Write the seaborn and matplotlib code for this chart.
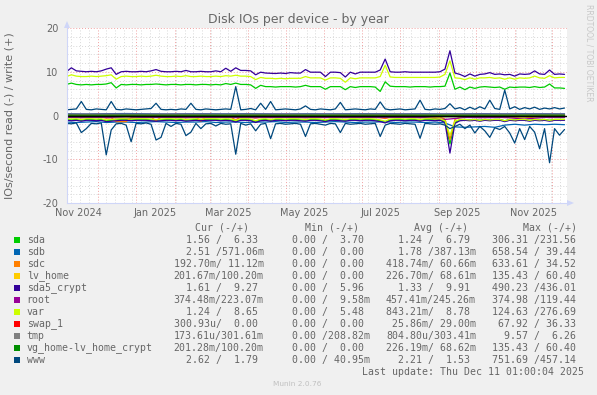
import numpy as np
import pandas as pd
import matplotlib
matplotlib.use("Agg")
import matplotlib.pyplot as plt
import matplotlib.dates as mdates
from matplotlib.patches import Rectangle, Polygon
from matplotlib.transforms import blended_transform_factory
import seaborn as sns

sns.set_theme(style="white")
plt.rcParams["font.family"] = ["DejaVu Sans"]
plt.rcParams["axes.unicode_minus"] = False

# ---------------- data ----------------
devices = ["sda", "sdb", "sdc", "lv_home", "sda5_crypt", "root", "var",
           "swap_1", "tmp", "vg_home-lv_home_crypt", "www"]
colors = ["#00CC00", "#0066B3", "#FF8000", "#FFCC00", "#330099", "#990099",
          "#CCFF00", "#FF0000", "#808080", "#008F00", "#00487D"]

start_date = "2024-11-06"
span_days = 400

sda_write = [7.1, 7.4, 7.1, 7.0, 7.1, 7.0, 7.1, 7.1, 7.2, 7.5,
             6.3, 7.1, 7.0, 7.1, 7.1, 7.0, 7.1, 7.1, 7.2, 7.1,
             7.0, 7.1, 7.1, 7.0, 7.1, 7.1, 7.0, 7.1, 7.1, 7.0,
             7.1, 7.0, 7.3, 7.1, 7.4, 7.1, 7.1, 7.0, 6.2, 6.9,
             6.6, 6.6, 6.5, 6.6, 6.6, 6.6, 6.5, 6.6, 6.9, 6.6,
             6.6, 6.6, 6.0, 6.6, 6.6, 6.6, 5.9, 6.6, 6.4, 6.6,
             6.6, 6.6, 6.5, 5.5, 7.7, 6.7, 6.6, 6.6, 6.6, 6.5,
             6.6, 6.6, 6.6, 6.5, 6.6, 6.6, 6.7, 9.7, 6.0, 6.5,
             5.9, 6.5, 6.2, 6.5, 6.6, 6.5, 6.4, 6.5, 6.0, 6.5,
             6.4, 6.5, 6.5, 6.4, 6.6, 6.4, 6.5, 7.2, 6.3, 6.3,
             6.2]
sda_read = [-0.9, -1.0, -0.9, -1.1, -0.9, -0.9, -1.0, -0.9, -1.2, -1.1,
            -1.0, -0.9, -0.9, -1.0, -0.9, -0.9, -0.9, -1.0, -1.1, -1.0,
            -0.9, -0.9, -1.0, -0.9, -1.1, -1.0, -0.9, -1.0, -0.9, -0.9,
            -0.9, -1.0, -0.9, -1.0, -1.3, -0.9, -0.9, -1.0, -1.4, -1.0,
            -0.9, -1.1, -0.9, -0.9, -1.0, -0.9, -0.9, -1.0, -1.1, -0.9,
            -0.9, -1.0, -1.2, -0.9, -0.9, -1.0, -1.1, -0.9, -0.9, -1.0,
            -0.9, -0.9, -1.0, -1.2, -1.5, -1.0, -0.9, -0.9, -1.0, -0.9,
            -0.9, -1.1, -0.9, -0.9, -1.0, -0.9, -1.4, -6.5, -1.6, -1.0,
            -0.9, -1.0, -0.9, -1.1, -0.9, -1.0, -0.9, -0.9, -1.2, -0.9,
            -1.0, -0.9, -0.9, -1.1, -0.9, -1.0, -0.9, -1.1, -0.9, -0.9,
            -0.9]

sdb_write = [0.40, 0.35, 0.42, 0.45, 0.40, 0.36, 0.40, 0.41, 0.38, 0.42,
             0.40, 0.36, 0.40, 0.38, 0.40, 0.42, 0.40, 0.38, 0.40, 0.36,
             0.40, 0.42, 0.38, 0.40, 0.40, 0.38]
sdb_read = [-1.5, -1.6, -1.5, -1.4, -1.6, -1.5, -1.5, -1.6, -1.5, -1.4,
            -1.5, -1.6, -1.5, -1.5, -1.4, -1.6, -1.5, -1.5, -1.6, -1.5,
            -1.5, -1.4, -1.6, -1.5, -1.5, -1.6, -1.5, -1.4, -1.5, -1.6,
            -1.5, -1.5, -1.4, -1.6, -1.5, -1.5, -1.6, -1.5, -1.7, -2.6,
            -2.7, -2.6, -2.5, -2.7, -2.2, -2.0, -2.2, -2.0, -2.1, -2.0,
            -2.1]

sdc_write = [0.06, 0.05, 0.07, 0.06, 0.06, 0.05, 0.06, 0.07, 0.06, 0.06,
             0.05, 0.06, 0.06, 0.07, 0.06, 0.05, 0.06, 0.06, 0.07, 0.06,
             0.06, 0.05, 0.06, 0.06, 0.07, 0.06]
sdc_read = [-0.35, -0.4, -0.35, -0.5, -0.35, -0.35, -0.4, -0.35, -0.6, -0.5,
            -1.4, -1.4, -1.4, -0.5, -0.35, -0.35, -0.4, -0.4, -1.2, -0.4,
            -0.35, -0.35, -0.4, -0.35, -0.5, -0.4, -0.35, -1.3, -0.35, -0.35,
            -0.35, -0.4, -0.35, -0.4, -1.0, -0.35, -0.35, -0.4, -0.6, -0.4,
            -0.35, -0.5, -0.35, -0.35, -0.4, -0.35, -0.35, -0.4, -0.5, -0.35,
            -0.35, -0.4, -0.5, -0.35, -0.35, -0.4, -0.5, -0.35, -0.35, -0.4,
            -0.35, -0.35, -0.4, -0.5, -0.7, -0.4, -0.35, -0.35, -0.4, -0.35,
            -0.35, -0.5, -0.35, -0.35, -0.4, -0.35, -0.8, -5.5, -0.9, -0.4,
            -0.35, -0.4, -0.35, -0.5, -0.35, -0.4, -0.35, -0.35, -0.5, -0.35,
            -0.4, -0.35, -0.35, -0.5, -0.35, -0.4, -0.35, -0.5, -0.35, -0.35,
            -0.35]

lv_home_write = [0.07, 0.07, 0.06, 0.07, 0.08, 0.07, 0.07, 0.06, 0.07, 0.07,
                 0.08, 0.07, 0.07, 0.06, 0.07, 0.07, 0.07, 0.08, 0.07, 0.07,
                 0.06, 0.07, 0.07, 0.07, 0.08, 0.07]
lv_home_read = [-0.22, -0.23, -0.22, -0.24, -0.22, -0.23, -0.22, -0.22, -0.24, -0.23,
                -0.22, -0.22, -0.23, -0.22, -0.24, -0.22, -0.23, -0.22, -0.22, -0.24,
                -0.23, -0.22, -0.22, -0.23, -0.22, -0.22]

sda5_write = [10.0, 10.9, 10.2, 10.1, 10.0, 10.1, 10.0, 10.2, 10.6, 10.9,
              9.4, 10.0, 10.1, 10.0, 10.0, 10.1, 10.0, 10.2, 10.5, 10.1,
              10.0, 10.0, 10.1, 10.0, 10.3, 10.0, 10.0, 10.1, 10.0, 10.0,
              10.2, 10.0, 10.8, 10.1, 10.9, 10.3, 10.3, 10.2, 9.3, 9.9,
              9.7, 9.65, 9.6, 9.7, 9.6, 9.8, 9.7, 9.7, 10.5, 9.9,
              9.9, 9.9, 8.9, 9.9, 9.9, 9.8, 8.8, 9.9, 9.5, 9.9,
              9.9, 9.9, 9.9, 10.4, 12.9, 10.0, 9.9, 9.9, 10.0, 9.9,
              9.9, 9.9, 9.9, 9.9, 9.9, 10.0, 10.6, 14.8, 9.7, 9.4,
              8.9, 9.5, 9.0, 9.4, 9.5, 9.8, 9.4, 9.5, 9.3, 9.4,
              9.0, 9.5, 9.4, 9.5, 10.2, 9.5, 9.4, 10.4, 9.4, 9.5,
              9.4]
sda5_read = [-1.1, -1.2, -1.1, -1.3, -1.1, -1.1, -1.2, -1.1, -1.4, -1.3,
             -1.2, -1.1, -1.1, -1.2, -1.1, -1.1, -1.1, -1.2, -1.3, -1.2,
             -1.1, -1.1, -1.2, -1.1, -1.3, -1.2, -1.1, -1.2, -1.1, -1.1,
             -1.1, -1.2, -1.1, -1.2, -1.5, -1.1, -1.1, -1.2, -1.6, -1.2,
             -1.1, -1.3, -1.1, -1.1, -1.2, -1.1, -1.1, -1.2, -1.3, -1.1,
             -1.1, -1.2, -1.4, -1.1, -1.1, -1.2, -1.3, -1.1, -1.1, -1.2,
             -1.1, -1.1, -1.2, -1.4, -1.7, -1.2, -1.1, -1.1, -1.2, -1.1,
             -1.1, -1.3, -1.1, -1.1, -1.2, -1.1, -1.6, -8.6, -1.8, -1.2,
             -1.1, -1.2, -1.1, -1.3, -1.1, -1.2, -1.1, -1.1, -1.4, -1.1,
             -1.2, -1.1, -1.1, -1.3, -1.1, -1.2, -1.1, -1.3, -1.1, -1.1,
             -1.1]

root_write = [0.25, 0.24, 0.26, 0.25, 0.24, 0.25, 0.26, 0.25, 0.24, 0.25,
              0.25, 0.26, 0.24, 0.25, 0.25, 0.24, 0.26, 0.25, 0.25, 0.24,
              0.25, 0.26, 0.25, 0.24, 0.25, 0.25]
root_read = [-0.45, -0.5, -0.45, -0.6, -0.45, -0.45, -0.5, -0.45, -0.45, -0.5,
             -0.45, -0.45, -0.5, -0.45, -0.45, -0.5, -0.45, -0.45, -0.5, -0.9,
             -0.45, -0.5, -0.45, -0.8, -0.45, -0.45]

var_write = [8.9, 9.3, 9.0, 8.9, 8.9, 9.0, 8.9, 9.0, 9.1, 9.3,
             8.3, 8.9, 9.0, 8.9, 8.9, 9.0, 8.9, 9.0, 9.2, 9.0,
             8.9, 8.9, 9.0, 8.9, 9.1, 8.9, 8.9, 9.0, 8.9, 8.9,
             9.0, 8.9, 9.1, 9.0, 9.2, 9.0, 9.0, 8.9, 8.2, 8.7,
             8.5, 8.5, 8.4, 8.5, 8.4, 8.5, 8.5, 8.5, 8.9, 8.6,
             8.6, 8.6, 8.1, 8.6, 8.6, 8.5, 7.6, 8.6, 8.4, 8.6,
             8.6, 8.6, 8.6, 8.9, 11.5, 8.8, 8.7, 8.7, 8.7, 8.7,
             8.7, 8.7, 8.7, 8.7, 8.7, 8.8, 9.4, 12.5, 8.6, 8.5,
             8.2, 8.6, 8.3, 8.6, 8.6, 8.7, 8.5, 8.6, 8.3, 8.6,
             8.3, 8.6, 8.5, 8.6, 9.0, 8.6, 8.5, 9.1, 8.6, 8.7,
             8.7]
var_read = [-0.75, -0.8, -0.75, -0.9, -0.75, -0.75, -0.8, -0.75, -1.0, -0.9,
            -0.8, -0.75, -0.75, -0.8, -0.75, -0.75, -0.75, -0.8, -0.9, -0.8,
            -0.75, -0.75, -0.8, -0.75, -0.9, -0.8, -0.75, -0.8, -0.75, -0.75,
            -0.75, -0.8, -0.75, -0.8, -1.1, -0.75, -0.75, -0.8, -1.2, -0.8,
            -0.75, -0.9, -0.75, -0.75, -0.8, -0.75, -0.75, -0.8, -0.9, -0.75,
            -0.75, -0.8, -1.0, -0.75, -0.75, -0.8, -0.9, -0.75, -0.75, -0.8,
            -0.75, -0.75, -0.8, -1.0, -1.3, -0.8, -0.75, -0.75, -0.8, -0.75,
            -0.75, -0.9, -0.75, -0.75, -0.8, -0.75, -1.2, -4.5, -1.3, -0.9,
            -0.9, -1.0, -0.9, -1.1, -0.9, -1.0, -0.9, -0.9, -1.2, -0.9,
            -1.0, -0.9, -0.9, -1.1, -0.9, -1.0, -0.9, -1.1, -0.9, -0.9,
            -0.9]

swap_write = [0.03, 0.02, 0.03, 0.03, 0.02, 0.03, 0.03, 0.03, 0.02, 0.03,
              0.03, 0.03, 0.02, 0.03, 0.03, 0.03, 0.02, 0.03, 0.03, 0.03,
              0.02, 0.03, 0.03, 0.03, 0.02, 0.03]
swap_read = [-0.03, -0.02, -0.03, -0.03, -0.02, -0.03, -0.03, -0.03, -0.02, -0.03,
             -0.03, -0.03, -0.02, -0.03, -0.03, -0.03, -0.02, -0.03, -0.03, -0.03,
             -0.02, -0.03, -0.03, -0.03, -0.02, -0.03]

tmp_write = [0.30, 0.31, 0.30, 0.29, 0.30, 0.31, 0.30, 0.30, 0.29, 0.30,
             0.31, 0.30, 0.30, 0.29, 0.30, 0.31, 0.30, 0.30, 0.29, 0.30,
             0.31, 0.30, 0.30, 0.29, 0.30, 0.30]
tmp_read = [0.0, 0.0, 0.0, 0.0, 0.0, 0.0, 0.0, 0.0, 0.0, 0.0,
            0.0, 0.0, 0.0, 0.0, 0.0, 0.0, 0.0, 0.0, 0.0, 0.0,
            0.0, 0.0, 0.0, 0.0, 0.0, 0.0]

vg_write = [0.07, 0.07, 0.06, 0.07, 0.08, 0.07, 0.07, 0.06, 0.07, 0.07,
            0.08, 0.07, 0.07, 0.06, 0.07, 0.07, 0.07, 0.08, 0.07, 0.07,
            0.06, 0.07, 0.07, 0.07, 0.08, 0.07]
vg_read = [-0.22, -0.23, -0.22, -0.24, -0.22, -0.23, -0.22, -0.22, -0.24, -0.23,
           -0.22, -0.22, -0.23, -0.22, -0.24, -0.22, -0.23, -0.22, -0.22, -0.24,
           -0.23, -0.22, -0.22, -0.23, -0.22, -0.22]

www_write = [1.3, 1.4, 1.5, 3.2, 1.4, 1.3, 1.5, 1.4, 1.3, 3.2,
             1.4, 1.3, 1.5, 1.4, 1.3, 1.4, 1.5, 1.6, 2.8, 1.4,
             1.3, 1.4, 1.3, 1.5, 1.4, 2.8, 1.4, 1.3, 1.5, 1.4,
             1.3, 1.4, 1.5, 1.4, 6.6, 1.3, 1.4, 1.6, 1.3, 2.8,
             1.4, 3.2, 1.3, 1.4, 1.5, 1.4, 1.3, 1.5, 2.2, 1.4,
             1.3, 1.5, 1.4, 1.3, 1.5, 3.0, 1.3, 1.4, 1.5, 1.4,
             1.3, 1.5, 1.4, 3.1, 1.5, 1.3, 1.4, 1.5, 1.3, 1.4,
             1.5, 3.5, 1.4, 1.3, 1.5, 1.4, 1.6, 2.7, 1.5, 1.8,
             1.3, 1.9, 1.4, 2.0, 1.5, 3.5, 1.6, 1.4, 5.8, 1.5,
             2.0, 1.4, 1.8, 1.5, 1.9, 1.4, 1.7, 1.5, 1.8, 1.5,
             1.7]
www_read = [-1.8, -1.9, -1.7, -3.9, -3.0, -1.8, -1.9, -1.7, -9.0, -3.3,
            -1.9, -1.8, -2.2, -6.0, -1.8, -1.9, -1.7, -2.0, -5.6, -5.0,
            -1.8, -2.5, -1.8, -2.0, -4.6, -3.8, -1.8, -3.0, -1.9, -1.8,
            -2.4, -1.8, -2.0, -1.9, -8.85, -1.8, -2.2, -1.9, -3.5, -2.0,
            -1.8, -5.3, -1.9, -1.8, -2.0, -1.9, -1.8, -2.0, -4.8, -1.9,
            -1.8, -2.0, -2.2, -1.8, -1.9, -3.9, -1.8, -2.0, -1.9, -1.8,
            -2.0, -1.9, -1.8, -4.8, -2.2, -1.8, -1.9, -2.0, -1.8, -1.9,
            -2.0, -5.2, -1.8, -1.9, -2.0, -1.9, -2.2, -3.0, -2.5, -2.0,
            -3.0, -2.2, -4.0, -2.5, -3.5, -5.0, -2.8, -3.2, -2.5, -4.0,
            -6.3, -3.0, -5.5, -2.5, -3.8, -7.6, -3.0, -10.8, -3.0, -4.5,
            -3.2]

reads = [sda_read, sdb_read, sdc_read, lv_home_read, sda5_read, root_read,
         var_read, swap_read, tmp_read, vg_read, www_read]
writes = [sda_write, sdb_write, sdc_write, lv_home_write, sda5_write, root_write,
          var_write, swap_write, tmp_write, vg_write, www_write]

cur_col = ["  1.56 /  6.33 ", "  2.51 /571.06m", "192.70m/ 11.12m", "201.67m/100.20m",
           "  1.61 /  9.27 ", "374.48m/223.07m", "  1.24 /  8.65 ", "300.93u/  0.00 ",
           "173.61u/301.61m", "201.28m/100.20m", "  2.62 /  1.79 "]
min_col = ["  0.00 /  3.70 ", "  0.00 /  0.00 ", "  0.00 /  0.00 ", "  0.00 /  0.00 ",
           "  0.00 /  5.96 ", "  0.00 /  9.58m", "  0.00 /  5.48 ", "  0.00 /  0.00 ",
           "  0.00 /208.82m", "  0.00 /  0.00 ", "  0.00 / 40.95m"]
avg_col = ["  1.24 /  6.79 ", "  1.78 /387.13m", "418.74m/ 60.66m", "226.70m/ 68.61m",
           "  1.33 /  9.91 ", "457.41m/245.26m", "843.21m/  8.78 ", " 25.86m/ 29.00m",
           "804.80u/303.41m", "226.19m/ 68.62m", "  2.21 /  1.53 "]
max_col = ["306.31 /231.56 ", "658.54 / 39.44 ", "633.61 / 34.52 ", "135.43 / 60.40 ",
           "490.23 /436.01 ", "374.98 /119.44 ", "124.63 /276.69 ", " 67.92 / 36.33 ",
           "  9.57 /  6.26 ", "135.43 / 60.40 ", "751.69 /457.14 "]
col_headers = ["Cur (-/+)", "Min (-/+)", "Avg (-/+)", "Max (-/+)"]

xtick_labels = ["Nov 2024", "Jan 2025", "Mar 2025", "May 2025", "Jul 2025", "Sep 2025", "Nov 2025"]
xtick_label_dates = ["2024-11-16", "2025-01-16", "2025-03-16", "2025-05-16",
                     "2025-07-16", "2025-09-16", "2025-11-16"]
yticks = [-20, -10, 0, 10, 20]

title = "Disk IOs per device - by year"
ylabel = "IOs/second read (-) / write (+)"
last_update = "Last update: Thu Dec 11 01:00:04 2025"

# ---------------- figure ----------------
W, H = 597, 395
FONT = "#666666"
AXISC = "#CFD6F8"
fig = plt.figure(figsize=(W / 100, H / 100), dpi=100)
fig.patch.set_facecolor("#F0F0F0")

def fx(px):
    return px / W

def fy(py):
    return 1 - py / H

ax = fig.add_axes([fx(67), fy(203), 500 / W, 175 / H])
ax.set_facecolor("white")

t0 = pd.Timestamp(start_date)

def when(vals):
    return t0 + pd.to_timedelta(np.linspace(0, span_days, len(vals)), unit="D")

for name, col, rd, wr in zip(devices, colors, reads, writes):
    sns.lineplot(x=when(rd), y=rd, ax=ax, color=col, linewidth=0.9, legend=False)
    sns.lineplot(x=when(wr), y=wr, ax=ax, color=col, linewidth=0.9, legend=False)

# zero rule
ax.axhline(0, color="#000000", linewidth=1.0, zorder=2.5)

ax.set_xlim(pd.Timestamp("2024-11-06 12:00"), pd.Timestamp("2025-12-13"))
ax.set_ylim(-20, 20)

# grid
ax.xaxis.set_major_locator(mdates.MonthLocator())
ax.xaxis.set_minor_locator(mdates.WeekdayLocator(byweekday=mdates.SU))
ax.xaxis.set_major_formatter(plt.NullFormatter())
ax.set_yticks(yticks)
ax.set_yticks(np.arange(-20, 21, 2), minor=True)
ax.grid(which="minor", color="#D8D8D8", linestyle=(0, (1, 2)), linewidth=0.7)
ax.grid(which="major", color="#F0A0A0", linestyle=(0, (1, 2)), linewidth=0.7)
ax.set_axisbelow(True)
ax.tick_params(axis="x", which="major", length=3, color="#F0A0A0", width=0.7, direction="out")
ax.tick_params(axis="x", which="minor", length=3, color="#D8D8D8", width=0.7, direction="out")
ax.tick_params(axis="y", which="major", length=3, color="#F0A0A0", width=0.7,
               labelsize=7, labelcolor=FONT, pad=3)
ax.tick_params(axis="y", which="minor", length=3, color="#D8D8D8", width=0.7)
ax.set_ylabel("")
ax.set_xlabel("")

for s in ["top", "right"]:
    ax.spines[s].set_visible(False)
for s in ["left", "bottom"]:
    ax.spines[s].set_color(AXISC)
    ax.spines[s].set_linewidth(0.8)

# axis arrows
fig.patches.append(Polygon([[fx(64), fy(28)], [fx(70), fy(28)], [fx(67), fy(21)]],
                           closed=True, transform=fig.transFigure, facecolor=AXISC,
                           edgecolor="none"))
fig.patches.append(Polygon([[fx(567), fy(200)], [fx(567), fy(206)], [fx(574), fy(203)]],
                           closed=True, transform=fig.transFigure, facecolor=AXISC,
                           edgecolor="none"))

# x labels centred mid-month
trans = blended_transform_factory(ax.transData, fig.transFigure)
for lab, d in zip(xtick_labels, xtick_label_dates):
    ax.text(mdates.date2num(pd.Timestamp(d)), fy(212.5), lab, transform=trans,
            ha="center", va="center", fontsize=7, color=FONT)

# title, y label, watermark
fig.text(fx(298.5), fy(23.5), title, ha="center", va="baseline", fontsize=9, color=FONT)
fig.text(fx(10), fy(115.5), ylabel, ha="center", va="center", rotation=90,
         fontsize=8, color=FONT)
fig.text(fx(589), fy(4), "RRDTOOL / TOBI OETIKER", ha="center", va="top", rotation=270,
         fontsize=5.5, color="#C8C8C8")
fig.text(fx(273), fy(384), "Munin 2.0.76", ha="left", va="center", fontsize=5.3,
         color="#C0C0C0")

# legend table
mono = "DejaVu Sans Mono"
fs = 7.15
head_x = [195, 305, 414, 523.3]
for h, hx in zip(col_headers, head_x):
    fig.text(fx(hx), fy(227.6), h, ha="left", va="center", fontsize=fs, family=mono, color=FONT)
col_x = [173.6, 279.8, 386.0, 492.3]
for i, name in enumerate(devices):
    yc = 239.6 + i * 12.0
    fig.patches.append(Rectangle((fx(14), fy(yc + 3)), 6 / W, 6 / H,
                                 transform=fig.transFigure, facecolor=colors[i],
                                 edgecolor="none"))
    fig.text(fx(26.7), fy(yc), name, ha="left", va="center", fontsize=fs, family=mono, color=FONT)
    for cx, colvals in zip(col_x, [cur_col, min_col, avg_col, max_col]):
        fig.text(fx(cx), fy(yc), colvals[i], ha="left", va="center", fontsize=fs,
                 family=mono, color=FONT)
fig.text(fx(361.7), fy(371.7), last_update, ha="left", va="center", fontsize=fs,
         family=mono, color=FONT)

fig.savefig("out.png", dpi=100, facecolor=fig.get_facecolor())
